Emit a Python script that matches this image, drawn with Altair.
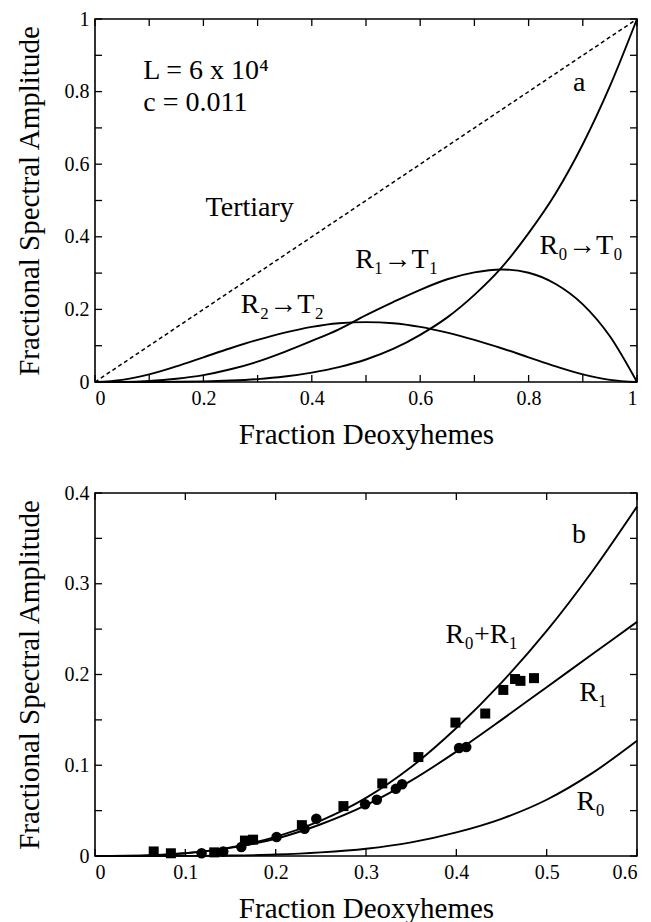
import altair as alt
import pandas as pd

FONT = "Liberation Serif"

# ---------------- panel a: spectral amplitudes over the full range ----------------
frac_a = [0.0, 0.05, 0.1, 0.15, 0.2, 0.25, 0.3, 0.35, 0.4, 0.45, 0.5,
          0.55, 0.6, 0.65, 0.7, 0.75, 0.8, 0.85, 0.9, 0.95, 1.0]
amp_r0t0 = [0.0, 0.0, 0.0001, 0.0005, 0.0016, 0.004, 0.008, 0.015, 0.026, 0.041, 0.062,
            0.091, 0.13, 0.178, 0.24, 0.315, 0.41, 0.52, 0.655, 0.815, 1.0]
amp_r1t1 = [0.0, 0.0004, 0.003, 0.009, 0.019, 0.035, 0.056, 0.083, 0.113, 0.145, 0.184,
            0.22, 0.254, 0.283, 0.302, 0.31, 0.301, 0.27, 0.214, 0.126, 0.0]
amp_r2t2 = [0.0, 0.006, 0.021, 0.043, 0.068, 0.093, 0.116, 0.136, 0.152, 0.162, 0.165,
            0.162, 0.152, 0.136, 0.116, 0.093, 0.068, 0.043, 0.021, 0.006, 0.0]
tertiary_x = [0.0, 1.0]
tertiary_y = [0.0, 1.0]

ticks_a = [0.0, 0.1, 0.2, 0.3, 0.4, 0.5, 0.6, 0.7, 0.8, 0.9, 1.0]
labels_a = [0.0, 0.2, 0.4, 0.6, 0.8, 1.0]

notes_a_text = ["L = 6 x 10\u2074", "c = 0.011", "a", "Tertiary",
                "R\u2081\u2192T\u2081", "R\u2082\u2192T\u2082", "R\u2080\u2192T\u2080"]
notes_a_x = [0.089, 0.089, 0.882, 0.204, 0.48, 0.269, 0.82]
notes_a_y = [0.835, 0.747, 0.802, 0.457, 0.314, 0.19, 0.353]

# ---------------- panel b: low-saturation region with measurements ----------------
frac_b = [0.0, 0.05, 0.1, 0.15, 0.2, 0.25, 0.3, 0.35, 0.4, 0.45, 0.5, 0.55, 0.6]
amp_r0 = [0.0, 0.0, 0.0001, 0.0005, 0.0016, 0.004, 0.008, 0.015, 0.026, 0.041, 0.062, 0.091, 0.127]
amp_r1 = [0.0, 0.0004, 0.003, 0.009, 0.019, 0.035, 0.056, 0.083, 0.115, 0.15, 0.186, 0.222, 0.258]
amp_r0r1 = [0.0, 0.0004, 0.0031, 0.0095, 0.021, 0.039, 0.064, 0.098, 0.141, 0.191, 0.248, 0.313, 0.385]

square_x = [0.065, 0.084, 0.132, 0.166, 0.175, 0.229, 0.275, 0.318, 0.358, 0.399,
            0.432, 0.452, 0.465, 0.471, 0.486]
square_y = [0.005, 0.003, 0.004, 0.017, 0.018, 0.034, 0.055, 0.080, 0.109, 0.147,
            0.157, 0.183, 0.195, 0.193, 0.196]
circle_x = [0.118, 0.142, 0.162, 0.201, 0.232, 0.245, 0.299, 0.312, 0.333, 0.340, 0.403, 0.411]
circle_y = [0.003, 0.005, 0.010, 0.021, 0.030, 0.041, 0.057, 0.062, 0.074, 0.079, 0.119, 0.120]

ticks_bx = [0.0, 0.1, 0.2, 0.3, 0.4, 0.5, 0.6]
ticks_by = [0.0, 0.05, 0.1, 0.15, 0.2, 0.25, 0.3, 0.35, 0.4]
labels_by = [0.0, 0.1, 0.2, 0.3, 0.4]

notes_b_text = ["b", "R\u2080+R\u2081", "R\u2081", "R\u2080"]
notes_b_x = [0.528, 0.388, 0.536, 0.533]
notes_b_y = [0.345, 0.235, 0.171, 0.051]

W, H = 542, 363
TICK = 7
XTITLE = "Fraction Deoxyhemes"
YTITLE = "Fractional Spectral Amplitude"


def long_frame(xs, series):
    rows = []
    for name, ys in series.items():
        for x, y in zip(xs, ys):
            rows.append({"x": x, "y": y, "curve": name})
    return pd.DataFrame(rows)


def inner_ticks(xticks, yticks, xscale, yscale):
    # short inward ticks on all four sides of the frame
    tx = pd.DataFrame({"x": xticks})
    ty = pd.DataFrame({"y": yticks})
    style = dict(color="black", strokeWidth=1.3)
    bottom = alt.Chart(tx).mark_rule(**style).encode(
        x=alt.X("x:Q", scale=xscale), y=alt.value(H), y2=alt.value(H - TICK))
    top = alt.Chart(tx).mark_rule(**style).encode(
        x=alt.X("x:Q", scale=xscale), y=alt.value(0), y2=alt.value(TICK))
    left = alt.Chart(ty).mark_rule(**style).encode(
        y=alt.Y("y:Q", scale=yscale), x=alt.value(0), x2=alt.value(TICK))
    right = alt.Chart(ty).mark_rule(**style).encode(
        y=alt.Y("y:Q", scale=yscale), x=alt.value(W - TICK), x2=alt.value(W))
    return [bottom, top, left, right]


def notes_layer(texts, xs, ys, xscale, yscale):
    df = pd.DataFrame({"t": texts, "x": xs, "y": ys})
    return alt.Chart(df).mark_text(
        align="left", baseline="alphabetic", font=FONT, fontSize=28, color="black"
    ).encode(
        x=alt.X("x:Q", scale=xscale),
        y=alt.Y("y:Q", scale=yscale),
        text="t:N",
    )


# ---- panel a
xs_a = alt.Scale(domain=[0, 1], nice=False, zero=False)
ys_a = alt.Scale(domain=[0, 1], nice=False, zero=False)

curves_a = long_frame(frac_a, {"R0T0": amp_r0t0, "R1T1": amp_r1t1, "R2T2": amp_r2t2})
lines_a = alt.Chart(curves_a).mark_line(
    color="black", strokeWidth=1.9, interpolate="monotone"
).encode(
    x=alt.X("x:Q", scale=xs_a,
            axis=alt.Axis(values=labels_a, format="~g", title=XTITLE)),
    y=alt.Y("y:Q", scale=ys_a,
            axis=alt.Axis(values=labels_a, format="~g", title=YTITLE)),
    detail="curve:N",
)
dashed_a = alt.Chart(pd.DataFrame({"x": tertiary_x, "y": tertiary_y})).mark_line(
    color="black", strokeWidth=1.5, strokeDash=[4, 3]
).encode(
    x=alt.X("x:Q", scale=xs_a),
    y=alt.Y("y:Q", scale=ys_a),
)
panel_a = alt.layer(
    lines_a, dashed_a, *inner_ticks(ticks_a, ticks_a, xs_a, ys_a),
    notes_layer(notes_a_text, notes_a_x, notes_a_y, xs_a, ys_a),
).properties(width=W, height=H)

# ---- panel b
xs_b = alt.Scale(domain=[0, 0.6], nice=False, zero=False)
ys_b = alt.Scale(domain=[0, 0.4], nice=False, zero=False)

curves_b = long_frame(frac_b, {"R0": amp_r0, "R1": amp_r1, "R0R1": amp_r0r1})
lines_b = alt.Chart(curves_b).mark_line(
    color="black", strokeWidth=1.9, interpolate="monotone"
).encode(
    x=alt.X("x:Q", scale=xs_b,
            axis=alt.Axis(values=ticks_bx, format="~g", title=XTITLE)),
    y=alt.Y("y:Q", scale=ys_b,
            axis=alt.Axis(values=labels_by, format="~g", title=YTITLE)),
    detail="curve:N",
)
squares = alt.Chart(pd.DataFrame({"x": square_x, "y": square_y})).mark_point(
    shape="square", filled=True, size=100, color="black", opacity=1
).encode(
    x=alt.X("x:Q", scale=xs_b),
    y=alt.Y("y:Q", scale=ys_b),
)
circles = alt.Chart(pd.DataFrame({"x": circle_x, "y": circle_y})).mark_circle(
    size=110, color="black", opacity=1
).encode(
    x=alt.X("x:Q", scale=xs_b),
    y=alt.Y("y:Q", scale=ys_b),
)
panel_b = alt.layer(
    lines_b, squares, circles, *inner_ticks(ticks_bx, ticks_by, xs_b, ys_b),
    notes_layer(notes_b_text, notes_b_x, notes_b_y, xs_b, ys_b),
).properties(width=W, height=H)

chart = alt.vconcat(panel_a, panel_b, spacing=111, bounds="flush").properties(
    padding={"left": 14, "top": 8, "right": 2, "bottom": 2},
    background="white",
).configure_view(
    stroke="black", strokeWidth=1.6
).configure_axis(
    labelFont=FONT, labelFontSize=20, labelColor="black",
    titleFont=FONT, titleFontSize=29, titleFontWeight="normal", titleColor="black",
    ticks=False, domain=False, grid=False, labelPadding=6,
).configure_axisX(
    titlePadding=12,
).configure_axisY(
    titlePadding=20,
)

chart.save("out.html", embed_options={"renderer": "svg", "actions": False})
